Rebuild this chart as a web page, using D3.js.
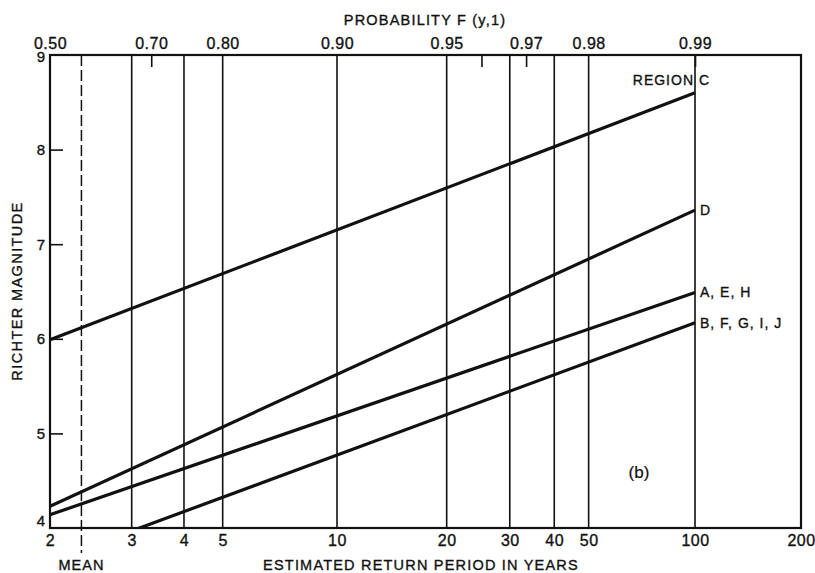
<!DOCTYPE html>
<html>
<head>
<meta charset="utf-8">
<script src="https://cdn.jsdelivr.net/npm/d3@7"></script>
<style>
  body { margin: 0; background: #fff; }
  svg text {
    font-family: "Liberation Sans", Arial, Helvetica, sans-serif;
    fill: #111;
    stroke: #111;
    stroke-width: 0.35px;
  }
</style>
</head>
<body>
<svg id="chart" width="815" height="573"></svg>
<script>
// return periods (years) on the bottom axis
const periodLabels = [2, 3, 4, 5, 10, 20, 30, 40, 50, 100, 200];
const gridPeriods = [3, 4, 5, 10, 20, 30, 40, 50, 100];
// probability F(y,1) on the top axis
const probLabels = [0.50, 0.70, 0.80, 0.90, 0.95, 0.97, 0.98, 0.99];
const probTicks = [0.70, 0.96, 0.97, 0.99];
const magnitudeLabels = [4, 5, 6, 7, 8, 9];
const magnitudeTicks = [5, 6, 7, 8];
const meanPeriod = 2.32;

// one straight line per region group, read at T = 2 and T = 100 years
const regionNames = ['REGION C', 'D', 'A, E, H', 'B, F, G, I, J'];
const magnitudeAt2 = [5.99, 4.23, 4.14, 3.65];
const magnitudeAt100 = [8.60, 7.36, 6.49, 6.17];
const lineEnds = [2, 100];

// Gumbel reduced variate
const fromProb = F => -Math.log(-Math.log(F));
const fromPeriod = T => fromProb(1 - 1 / T);

const svg = d3.select('#chart');

const x = d3.scaleLinear()
  .domain([fromPeriod(2), fromPeriod(200)])
  .range([50, 801]);

const y = d3.scaleLinear()
  .domain([4, 9])
  .range([528, 55]);

const plotLeft = x.range()[0], plotRight = x.range()[1];
const plotTop = y(9), plotBottom = y(4);

svg.append('clipPath').attr('id', 'plot-clip')
  .append('rect')
  .attr('x', plotLeft).attr('y', plotTop)
  .attr('width', plotRight - plotLeft).attr('height', plotBottom - plotTop);

// vertical grid lines
svg.append('g')
  .selectAll('line')
  .data(gridPeriods)
  .join('line')
  .attr('x1', d => x(fromPeriod(d)))
  .attr('x2', d => x(fromPeriod(d)))
  .attr('y1', plotTop)
  .attr('y2', plotBottom)
  .attr('stroke', '#111')
  .attr('stroke-width', 1.6);

// mean line
const meanX = x(fromPeriod(meanPeriod));
svg.append('line')
  .attr('x1', meanX).attr('x2', meanX)
  .attr('y1', plotTop).attr('y2', plotBottom + 25)
  .attr('stroke', '#111')
  .attr('stroke-width', 1.5)
  .attr('stroke-dasharray', '11,4');

svg.append('text')
  .attr('x', meanX)
  .attr('y', 570)
  .attr('text-anchor', 'middle')
  .attr('font-size', 14.5)
  .attr('letter-spacing', 1)
  .text('MEAN');

// frame
svg.append('rect')
  .attr('x', plotLeft).attr('y', plotTop)
  .attr('width', plotRight - plotLeft).attr('height', plotBottom - plotTop)
  .attr('fill', 'none')
  .attr('stroke', '#111')
  .attr('stroke-width', 2.2);

// bottom axis labels
const bottomAxis = svg.append('g')
  .attr('transform', `translate(0,${plotBottom})`)
  .call(d3.axisBottom(x)
    .tickValues(periodLabels.map(fromPeriod))
    .tickFormat((d, i) => periodLabels[i])
    .tickSize(0)
    .tickPadding(7));
bottomAxis.select('.domain').remove();
bottomAxis.selectAll('text').attr('font-size', 16).attr('letter-spacing', 0.5);

svg.append('text')
  .attr('x', 421)
  .attr('y', 570)
  .attr('text-anchor', 'middle')
  .attr('font-size', 14.5)
  .attr('letter-spacing', 1.2)
  .text('ESTIMATED RETURN PERIOD IN YEARS');

// top axis: labels and short inward ticks
const topAxis = svg.append('g')
  .attr('transform', `translate(0,${plotTop})`)
  .call(d3.axisTop(x)
    .tickValues(probLabels.map(fromProb))
    .tickFormat((d, i) => probLabels[i].toFixed(2))
    .tickSize(0)
    .tickPadding(6));
topAxis.select('.domain').remove();
topAxis.selectAll('text').attr('font-size', 16).attr('letter-spacing', 0.5);

const topTicks = svg.append('g')
  .attr('transform', `translate(0,${plotTop})`)
  .call(d3.axisTop(x)
    .tickValues(probTicks.map(fromProb))
    .tickFormat('')
    .tickSize(-12));
topTicks.select('.domain').remove();
topTicks.selectAll('line').attr('stroke', '#111').attr('stroke-width', 1.6);

svg.append('text')
  .attr('x', 425)
  .attr('y', 25)
  .attr('text-anchor', 'middle')
  .attr('font-size', 14.5)
  .attr('letter-spacing', 1.2)
  .text('PROBABILITY F (y,1)');

// left axis
const leftAxis = svg.append('g')
  .attr('transform', `translate(${plotLeft},0)`)
  .call(d3.axisLeft(y)
    .tickValues(magnitudeLabels)
    .tickFormat(d3.format('d'))
    .tickSize(0)
    .tickPadding(5));
leftAxis.select('.domain').remove();
leftAxis.selectAll('text').attr('font-size', 15);
// the "4" sits a little above the bottom edge, the "9" just under the top labels
leftAxis.selectAll('.tick').filter(d => d === 4).select('text').attr('dy', '-0.15em');
leftAxis.selectAll('.tick').filter(d => d === 9).select('text').attr('dy', '0.4em');

const leftTicks = svg.append('g')
  .attr('transform', `translate(${plotLeft},0)`)
  .call(d3.axisLeft(y)
    .tickValues(magnitudeTicks)
    .tickFormat('')
    .tickSize(-13));
leftTicks.select('.domain').remove();
leftTicks.selectAll('line').attr('stroke', '#111').attr('stroke-width', 1.6);

svg.append('text')
  .attr('transform', 'translate(22,291) rotate(-90)')
  .attr('text-anchor', 'middle')
  .attr('font-size', 14.5)
  .attr('letter-spacing', 1.4)
  .text('RICHTER MAGNITUDE');

// region lines
const line = d3.line()
  .x(d => x(fromPeriod(d[0])))
  .y(d => y(d[1]));

const regionData = regionNames.map((name, i) => ({
  name,
  points: [[lineEnds[0], magnitudeAt2[i]], [lineEnds[1], magnitudeAt100[i]]]
}));

svg.append('g')
  .attr('clip-path', 'url(#plot-clip)')
  .selectAll('path')
  .data(regionData)
  .join('path')
  .attr('d', d => line(d.points))
  .attr('fill', 'none')
  .attr('stroke', '#111')
  .attr('stroke-width', 3.2);

// labels at the right end of each line
svg.append('g')
  .selectAll('text')
  .data(regionData)
  .join('text')
  .attr('x', (d, i) => x(fromPeriod(lineEnds[1])) + (i === 0 ? 15 : 5))
  .attr('y', (d, i) => y(d.points[1][1]) + (i === 0 ? -8 : 5))
  .attr('text-anchor', (d, i) => i === 0 ? 'end' : 'start')
  .attr('font-size', 14)
  .attr('letter-spacing', 1)
  .text(d => d.name);

svg.append('text')
  .attr('x', 639)
  .attr('y', 478)
  .attr('text-anchor', 'middle')
  .attr('font-size', 17)
  .style('stroke-width', '0.2px')
  .text('(b)');
</script>
</body>
</html>
